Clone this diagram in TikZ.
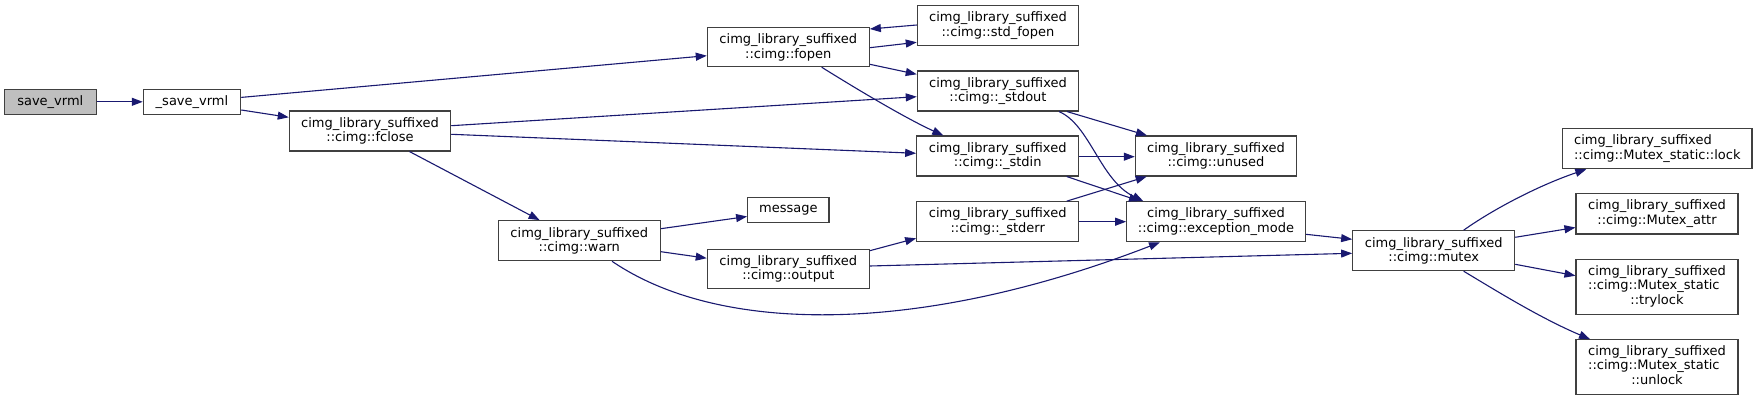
\documentclass[tikz,border=0pt]{standalone}
\usepackage{fontspec}
\setmainfont{DejaVu Sans}
\usetikzlibrary{arrows.meta}
\definecolor{edgec}{HTML}{191970}
\definecolor{boxc}{HTML}{404040}
\definecolor{fillc}{HTML}{BFBFBF}
\begin{document}
\begin{tikzpicture}[x=1pt,y=-1pt,
  fn/.style={draw=boxc, line width=1.1pt, fill=white, inner sep=0pt,
    font=\fontsize{13}{14.5}\selectfont, align=center},
  one/.style={minimum height=25pt},
  two/.style={minimum height=40pt},
  three/.style={minimum height=54.6pt},
  e/.style={draw=edgec, line width=1.1pt, -{Triangle[length=11pt,width=8pt]}}]
\useasboundingbox[fill=white] (0,0) rectangle (1757,401);

\node[fn, one, fill=fillc, minimum width=91.5pt] (sv) at (50.3,101.8) {save\_vrml};
\node[fn, one, minimum width=97.4pt] (ssv) at (192,101.8) {\_save\_vrml};
\node[fn, two, minimum width=161.4pt] (fclose) at (370,131) {cimg\_library\_suffixed\\::cimg::fclose};
\node[fn, minimum height=39pt, minimum width=162pt] (fopen) at (788.3,47.2) {cimg\_library\_suffixed\\::cimg::fopen};
\node[fn, two, minimum width=161.4pt] (stdfopen) at (998,25.7) {cimg\_library\_suffixed\\::cimg::std\_fopen};
\node[fn, two, minimum width=161.4pt] (stdout) at (998,91) {cimg\_library\_suffixed\\::cimg::\_stdout};
\node[fn, two, minimum width=162pt] (stdin) at (997.7,156) {cimg\_library\_suffixed\\::cimg::\_stdin};
\node[fn, two, minimum width=161.4pt] (unused) at (1216,156) {cimg\_library\_suffixed\\::cimg::unused};
\node[fn, two, minimum width=162pt] (stderr) at (997.7,221.7) {cimg\_library\_suffixed\\::cimg::\_stderr};
\node[fn, two, minimum width=178.6pt] (excmode) at (1216,221.7) {cimg\_library\_suffixed\\::cimg::exception\_mode};
\node[fn, one, minimum width=81.3pt] (message) at (788.3,210.2) {message};
\node[fn, two, minimum width=162pt] (warn) at (579.3,240.7) {cimg\_library\_suffixed\\::cimg::warn};
\node[fn, minimum height=39.3pt, minimum width=162pt] (output) at (788.3,268.7) {cimg\_library\_suffixed\\::cimg::output};
\node[fn, two, minimum width=162pt] (mutex) at (1433.7,250.7) {cimg\_library\_suffixed\\::cimg::mutex};
\node[fn, minimum height=40.4pt, minimum width=189.3pt, align=left] (lock) at (1657.3,148.5) {cimg\_library\_suffixed\\::cimg::Mutex\_static::lock};
\node[fn, minimum height=40.3pt, minimum width=162pt] (attr) at (1657,213.8) {cimg\_library\_suffixed\\::cimg::Mutex\_attr};
\node[fn, three, minimum width=162pt] (trylock) at (1657,287) {\begin{tabular}{@{}l@{}}cimg\_library\_suffixed\\::cimg::Mutex\_static\\\multicolumn{1}{@{}c@{}}{::trylock}\end{tabular}};
\node[fn, three, minimum width=162pt] (unlock) at (1657,367) {\begin{tabular}{@{}l@{}}cimg\_library\_suffixed\\::cimg::Mutex\_static\\\multicolumn{1}{@{}c@{}}{::unlock}\end{tabular}};

\draw[e] (sv.east) -- (ssv.west);
\draw[e] ([shift={(0,-4.4)}]ssv.east) -- ([shift={(0,8.5)}]fopen.west);
\draw[e] ([shift={(0,8.2)}]ssv.east) -- ([shift={(0,-13.7)}]fclose.west);
\draw[e] ([shift={(0,-5.3)}]fclose.east) -- ([shift={(0,5.7)}]stdout.west);
\draw[e] ([shift={(0,3.3)}]fclose.east) -- ([shift={(0,-2.7)}]stdin.west);
\draw[e] ([shift={(39.5,0)}]fclose.south) -- ([shift={(-39.7,0)}]warn.north);
\draw[e] ([shift={(0,0.5)}]fopen.east) -- ([shift={(0,16.6)}]stdfopen.west);
\draw[e] ([shift={(0,-0.7)}]stdfopen.west) -- ([shift={(0,-18.2)}]fopen.east);
\draw[e] ([shift={(0,17.1)}]fopen.east) -- ([shift={(0,-16.7)}]stdout.west);
\draw[e] ([shift={(33.4,0)}]fopen.south) .. controls (855,88) and (905,118) .. ([shift={(-54.4,0)}]stdin.north);
\draw[e] ([shift={(68.9,0)}]stdout.south) -- ([shift={(-69,0)}]unused.north);
\draw[e] ([shift={(61,0)}]stdout.south) .. controls (1090,125) and (1100,180) .. ([shift={(-72.7,0)}]excmode.north);
\draw[e] ([shift={(0,0.7)}]stdin.east) -- ([shift={(0,0.7)}]unused.west);
\draw[e] ([shift={(69,0)}]stdin.south) -- ([shift={(-76,0)}]excmode.north);
\draw[e] ([shift={(69,0)}]stderr.north) -- ([shift={(-69.3,0)}]unused.south);
\draw[e] (stderr.east) -- (excmode.west);
\draw[e] ([shift={(0,-12)}]warn.east) -- ([shift={(0,6.3)}]message.west);
\draw[e] ([shift={(0,11)}]warn.east) -- ([shift={(0,-10.5)}]output.west);
\draw[e] ([shift={(32.7,0)}]warn.south) .. controls (720,335) and (920,335) .. ([shift={(-56,0)}]excmode.south);
\draw[e] ([shift={(0,-18)}]output.east) -- ([shift={(0,16.6)}]stderr.west);
\draw[e] ([shift={(0,-2.7)}]output.east) -- ([shift={(0,2.6)}]mutex.west);
\draw[e] ([shift={(0,12.6)}]excmode.east) -- ([shift={(0,-11.4)}]mutex.west);
\draw[e] ([shift={(30,0)}]mutex.north) .. controls (1495,208) and (1540,185) .. ([shift={(-71,0)}]lock.south);
\draw[e] ([shift={(0,-13.4)}]mutex.east) -- ([shift={(0,13.7)}]attr.west);
\draw[e] ([shift={(0,13.6)}]mutex.east) -- ([shift={(0,-11.3)}]trylock.west);
\draw[e] ([shift={(30,0)}]mutex.south) .. controls (1495,290) and (1540,318) .. ([shift={(-67,0)}]unlock.north);
\end{tikzpicture}
\end{document}
